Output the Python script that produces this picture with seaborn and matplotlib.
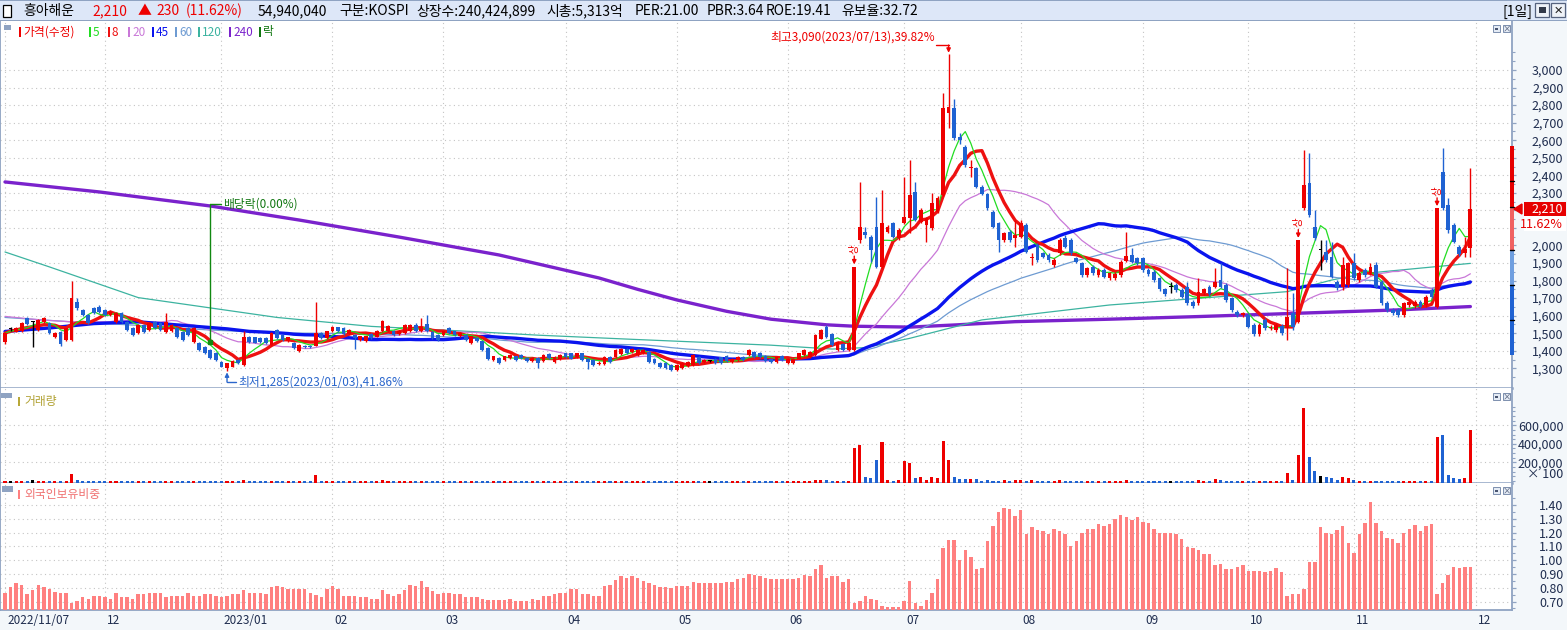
import numpy as np
import pandas as pd
import matplotlib
matplotlib.use("Agg")
import matplotlib.pyplot as plt
import matplotlib.transforms as mtrans
from matplotlib.patches import Rectangle, Polygon
import seaborn as sns

sns.set_style("white")
plt.rcParams['font.family'] = ['Noto Sans CJK KR', 'DejaVu Sans']
plt.rcParams['axes.unicode_minus'] = False

# ---------------- data (daily bars, 2022/11/07 .. 2023/11/30) ----------------
opens = [
    1452, 1524, 1509, 1510, 1585, 1566, 1519, 1566, 1557, 1480,
    1509, 1462, 1462, 1680, 1633, 1604, 1642, 1652, 1633, 1604,
    1566, 1614, 1566, 1528, 1500, 1547, 1519, 1566, 1557, 1509,
    1513, 1528, 1509, 1528, 1452, 1443, 1424, 1405, 1386, 1338,
    1300, 1310, 1348, 1319, 1480, 1476, 1471, 1471, 1433, 1519,
    1491, 1453, 1443, 1400, 1430, 1430, 1430, 1500, 1472, 1510,
    1533, 1529, 1495, 1491, 1463, 1457, 1495, 1481, 1510, 1510,
    1514, 1497, 1500, 1510, 1548, 1514, 1553, 1506, 1491, 1491,
    1529, 1510, 1482, 1491, 1444, 1472, 1453, 1415, 1349, 1358,
    1349, 1358, 1368, 1377, 1358, 1343, 1358, 1343, 1381, 1337,
    1351, 1385, 1385, 1366, 1385, 1356, 1347, 1324, 1324, 1366,
    1366, 1381, 1413, 1394, 1375, 1385, 1394, 1356, 1332, 1332,
    1318, 1290, 1300, 1313, 1318, 1366, 1337, 1343, 1356, 1362,
    1370, 1337, 1347, 1366, 1375, 1394, 1388, 1370, 1356, 1337,
    1370, 1328, 1328, 1356, 1375, 1366, 1375, 1470, 1536, 1498,
    1404, 1441, 1405, 1405, 2032, 2079, 2050, 2107, 1880, 2079,
    2126, 2041, 2126, 2155, 2307, 2136, 2117, 2098, 2193, 2288,
    2753, 2782, 2620, 2563, 2440, 2440, 2335, 2294, 2193, 2126,
    2031, 2079, 2041, 2050, 2117, 1927, 2003, 1956, 1946, 1889,
    1956, 2041, 2031, 1927, 1899, 1832, 1880, 1832, 1861, 1813,
    1813, 1832, 1914, 1946, 1927, 1927, 1860, 1851, 1813, 1750,
    1765, 1775, 1746, 1765, 1680, 1671, 1727, 1765, 1765, 1803,
    1775, 1699, 1623, 1604, 1604, 1547, 1496, 1576, 1528, 1519,
    1541, 1528, 1614, 1566, 2212, 2354, 2107, 1974, 1965, 1936,
    1794, 1765, 1775, 1898, 1803, 1860, 1842, 1889, 1794, 1675,
    1633, 1633, 1604, 1661, 1655, 1680, 1661, 1746, 1652, 2421,
    2231, 2117, 1994, 1955, 1984,
]
highs = [
    1505, 1535, 1535, 1565, 1590, 1570, 1582, 1595, 1562, 1505,
    1515, 1532, 1800, 1699, 1640, 1610, 1650, 1660, 1640, 1630,
    1620, 1620, 1572, 1534, 1552, 1552, 1562, 1571, 1562, 1614,
    1552, 1533, 1514, 1533, 1533, 1448, 1429, 1410, 1391, 1343,
    1333, 1347, 1353, 1515, 1485, 1481, 1476, 1476, 1505, 1524,
    1496, 1481, 1448, 1439, 1435, 1435, 1677, 1505, 1515, 1543,
    1538, 1534, 1525, 1496, 1487, 1487, 1500, 1519, 1577, 1549,
    1519, 1519, 1553, 1553, 1557, 1586, 1605, 1511, 1496, 1515,
    1534, 1515, 1505, 1496, 1487, 1477, 1458, 1420, 1373, 1363,
    1373, 1382, 1373, 1382, 1363, 1363, 1363, 1382, 1386, 1371,
    1380, 1390, 1390, 1390, 1390, 1361, 1352, 1340, 1371, 1371,
    1408, 1418, 1418, 1418, 1408, 1408, 1399, 1361, 1337, 1337,
    1323, 1323, 1337, 1342, 1380, 1371, 1352, 1350, 1361, 1367,
    1375, 1361, 1371, 1371, 1408, 1399, 1393, 1375, 1361, 1371,
    1375, 1361, 1361, 1390, 1408, 1399, 1494, 1522, 1545, 1503,
    1456, 1446, 1448, 1880, 2364, 2107, 2060, 2278, 2316, 2115,
    2135, 2098, 2392, 2487, 2364, 2212, 2165, 2297, 2280, 2867,
    3090, 2833, 2640, 2575, 2487, 2450, 2345, 2300, 2202, 2136,
    2079, 2088, 2145, 2145, 2126, 1956, 2012, 1965, 1956, 1927,
    2041, 2060, 2041, 1937, 1908, 1880, 1889, 1870, 1870, 1851,
    1848, 1918, 2079, 1984, 1937, 1936, 1870, 1860, 1822, 1760,
    1794, 1785, 1756, 1794, 1690, 1813, 1760, 1775, 1870, 1898,
    1785, 1708, 1633, 1623, 1614, 1557, 1557, 1586, 1547, 1557,
    1551, 1870, 1728, 2031, 2544, 2525, 2202, 2031, 2031, 2022,
    1804, 1936, 1908, 1955, 1852, 1870, 1898, 1908, 1804, 1685,
    1643, 1643, 1680, 1690, 1690, 1690, 1718, 1756, 2212, 2554,
    2269, 2127, 2004, 2050, 2440,
]
lows = [
    1440, 1510, 1505, 1505, 1545, 1420, 1515, 1560, 1495, 1475,
    1430, 1458, 1458, 1633, 1598, 1550, 1608, 1618, 1598, 1598,
    1560, 1560, 1512, 1484, 1495, 1504, 1514, 1523, 1514, 1504,
    1508, 1475, 1457, 1485, 1447, 1400, 1381, 1352, 1343, 1305,
    1285, 1305, 1323, 1314, 1447, 1442, 1443, 1438, 1428, 1466,
    1458, 1448, 1410, 1395, 1414, 1415, 1425, 1467, 1467, 1505,
    1505, 1490, 1490, 1411, 1458, 1452, 1467, 1476, 1505, 1505,
    1486, 1492, 1495, 1505, 1505, 1509, 1505, 1467, 1458, 1486,
    1495, 1486, 1477, 1458, 1439, 1448, 1400, 1349, 1344, 1325,
    1344, 1353, 1344, 1353, 1338, 1338, 1301, 1338, 1353, 1332,
    1346, 1361, 1351, 1361, 1342, 1294, 1313, 1320, 1319, 1332,
    1361, 1376, 1380, 1389, 1370, 1380, 1332, 1323, 1300, 1295,
    1287, 1286, 1295, 1308, 1313, 1323, 1332, 1336, 1323, 1323,
    1338, 1332, 1342, 1342, 1370, 1361, 1361, 1338, 1332, 1332,
    1342, 1323, 1323, 1351, 1370, 1361, 1370, 1465, 1474, 1427,
    1399, 1399, 1400, 1400, 2012, 2041, 1908, 1870, 1870, 2070,
    2040, 2031, 2120, 2069, 2140, 2126, 2022, 2090, 2185, 2280,
    2668, 2600, 2580, 2450, 2392, 2325, 2285, 2200, 2098, 1965,
    2022, 2022, 1994, 2041, 1955, 1889, 1908, 1927, 1908, 1880,
    1946, 1984, 1946, 1899, 1822, 1822, 1832, 1822, 1813, 1804,
    1803, 1822, 1904, 1898, 1889, 1850, 1828, 1794, 1740, 1714,
    1728, 1736, 1698, 1660, 1645, 1661, 1717, 1714, 1755, 1755,
    1680, 1623, 1595, 1595, 1528, 1486, 1486, 1518, 1519, 1509,
    1490, 1462, 1519, 1556, 2200, 2160, 2031, 1860, 1907, 1812,
    1746, 1746, 1765, 1803, 1793, 1822, 1832, 1755, 1661, 1623,
    1604, 1594, 1594, 1651, 1645, 1642, 1651, 1698, 1642, 2200,
    2070, 2012, 1940, 1936, 1935,
]
closes = [
    1500, 1524, 1528, 1557, 1551, 1566, 1576, 1585, 1500, 1500,
    1437, 1528, 1699, 1642, 1604, 1557, 1614, 1623, 1604, 1623,
    1614, 1566, 1519, 1490, 1547, 1509, 1557, 1528, 1519, 1566,
    1547, 1480, 1462, 1490, 1528, 1405, 1386, 1357, 1348, 1310,
    1328, 1342, 1328, 1480, 1452, 1447, 1448, 1443, 1500, 1471,
    1463, 1476, 1415, 1434, 1419, 1420, 1500, 1472, 1510, 1538,
    1510, 1495, 1520, 1472, 1482, 1482, 1472, 1514, 1567, 1544,
    1491, 1514, 1548, 1548, 1510, 1538, 1510, 1472, 1463, 1510,
    1500, 1491, 1500, 1463, 1482, 1453, 1405, 1354, 1368, 1330,
    1368, 1377, 1349, 1358, 1343, 1358, 1330, 1377, 1358, 1366,
    1375, 1366, 1356, 1385, 1347, 1337, 1318, 1332, 1366, 1337,
    1403, 1413, 1385, 1413, 1403, 1403, 1337, 1328, 1305, 1300,
    1290, 1318, 1332, 1337, 1375, 1328, 1347, 1343, 1328, 1328,
    1343, 1356, 1366, 1347, 1403, 1366, 1366, 1343, 1337, 1366,
    1347, 1356, 1356, 1385, 1403, 1394, 1489, 1517, 1479, 1432,
    1451, 1404, 1443, 1880, 2107, 2060, 1975, 1880, 2126, 2107,
    2050, 2088, 2164, 2288, 2145, 2202, 2155, 2240, 2269, 2782,
    2791, 2611, 2601, 2459, 2450, 2335, 2294, 2212, 2107, 2031,
    2069, 2031, 2060, 2126, 1965, 1937, 1918, 1937, 1918, 1918,
    2031, 1994, 1956, 1908, 1832, 1870, 1842, 1861, 1823, 1842,
    1838, 1908, 1940, 1908, 1898, 1860, 1838, 1803, 1750, 1724,
    1765, 1746, 1708, 1670, 1655, 1737, 1750, 1724, 1794, 1765,
    1690, 1633, 1604, 1613, 1538, 1496, 1547, 1528, 1538, 1547,
    1500, 1594, 1538, 2031, 2345, 2174, 2041, 1974, 1917, 1822,
    1756, 1889, 1898, 1813, 1842, 1832, 1879, 1765, 1671, 1633,
    1614, 1604, 1671, 1680, 1680, 1652, 1708, 1708, 2212, 2212,
    2088, 2022, 1952, 1980, 2210,
]
# volume, thousands of (x100 shares)
volume_k = [
    5, 4, 5, 5, 4, 6, 5, 5, 4, 5, 5, 5, 70, 6, 5,
    5, 4, 4, 5, 5, 5, 4, 5, 4, 5, 4, 5, 4, 4, 5,
    5, 4, 4, 4, 5, 4, 4, 5, 4, 4, 5, 5, 4, 8, 5,
    4, 4, 4, 5, 4, 4, 5, 4, 5, 4, 4, 65, 5, 5, 5,
    4, 4, 5, 4, 5, 5, 4, 5, 6, 5, 4, 5, 5, 5, 4,
    5, 5, 4, 4, 5, 4, 4, 5, 4, 5, 4, 5, 5, 4, 4,
    5, 5, 4, 4, 4, 5, 4, 5, 4, 5, 5, 4, 4, 5, 4,
    4, 4, 5, 5, 4, 5, 5, 4, 5, 5, 5, 4, 4, 4, 4,
    4, 5, 5, 5, 5, 4, 5, 4, 4, 4, 4, 5, 5, 4, 5,
    4, 4, 4, 4, 5, 4, 5, 5, 5, 5, 5, 8, 8, 6, 5,
    5, 4, 5, 351, 382, 46, 35, 225, 414, 14, 4, 14, 214, 193, 35,
    46, 14, 46, 35, 425, 225, 46, 25, 25, 25, 25, 4, 14, 4, 4,
    8, 4, 14, 14, 4, 8, 4, 4, 4, 5, 8, 4, 4, 4, 4,
    5, 4, 5, 4, 5, 5, 5, 14, 5, 4, 4, 4, 4, 4, 4,
    5, 4, 4, 4, 4, 14, 5, 4, 25, 14, 4, 4, 4, 5, 4,
    4, 5, 4, 5, 5, 4, 88, 14, 277, 782, 256, 109, 56, 46, 35,
    14, 46, 35, 14, 5, 4, 5, 4, 4, 4, 4, 4, 5, 5, 5,
    4, 5, 4, 477, 498, 67, 35, 25, 35, 551,
]
# foreign ownership ratio (%)
foreign = [
    .764, .807, .836, .821, .757, .786, .821, .807, .793, .771,
    .764, .764, .693, .707, .736, .721, .743, .743, .736, .721,
    .764, .736, .736, .721, .757, .757, .764, .764, .764, .736,
    .743, .743, .743, .764, .743, .743, .757, .757, .743, .736,
    .743, .757, .757, .786, .764, .764, .764, .757, .807, .814,
    .807, .793, .793, .793, .793, .764, .750, .736, .793, .814,
    .793, .743, .743, .743, .736, .736, .721, .721, .786, .757,
    .743, .757, .786, .821, .814, .850, .807, .779, .757, .764,
    .764, .757, .757, .736, .736, .736, .721, .714, .714, .714,
    .714, .721, .707, .707, .707, .721, .714, .743, .743, .757,
    .764, .764, .793, .793, .757, .757, .743, .743, .814, .821,
    .857, .886, .871, .886, .871, .850, .836, .821, .807, .807,
    .800, .814, .814, .814, .843, .836, .836, .836, .836, .836,
    .843, .843, .864,
    .871, .900, .893, .886, .871, .864, .864, .864, .864, .864,
    .871, .893, .886, .936, .964, .871, .886, .886, .843, .864,
    .693, .707, .743, .721, .714, .671, .664, .664, .664, .707,
    .850, .693, .671, .714, .764, .864, 1.086, 1.143, 1.143, 1.000,
    1.071, 1.021, .936, .943, 1.136, 1.250, 1.350, 1.379, 1.371, 1.321,
    1.364, 1.186, 1.243, 1.221, 1.214, 1.193, 1.229, 1.214, 1.186, 1.100,
    1.136, 1.200, 1.229, 1.229, 1.264, 1.250, 1.264, 1.300, 1.329, 1.314,
    1.293, 1.314, 1.279, 1.271, 1.229, 1.200, 1.200, 1.200, 1.193, 1.150,
    1.093, 1.086, 1.071, 1.043, 1.043, .964, .971, .936, .936, .950,
    .964, .921, .921, .921, .914, .921, .943, .914, .743, .757,
    .757, .793, .986, .986, 1.243, 1.200, 1.193, 1.221, 1.250, 1.121,
    1.050, 1.193, 1.271, 1.421, 1.271, 1.214, 1.164, 1.150, 1.121, 1.200,
    1.229, 1.257, 1.214, 1.250, 1.264, .757, .836, .893, .950, .943,
    .950, .950,
]

month_idx = [0, 18, 39, 59, 79, 101, 121, 141, 162, 183, 205, 224, 243, 265]
month_lbl = ["2022/11/07", "12", "2023/01", "02", "03", "04", "05", "06",
             "07", "08", "09", "10", "11", "12"]

# long averages need history before the window
ma20_head_idx = [0, 6, 12]
ma20_head_val = [1596, 1577, 1565]
ma45_head_idx = [0, 8, 16, 24, 32, 40]
ma45_head_val = [1510, 1530, 1555, 1565, 1545, 1525]
ma60_head_idx = [0, 12, 24, 36, 48]
ma60_head_val = [1590, 1565, 1545, 1520, 1502]
ma120_idx = [0, 8, 24, 49, 66, 84, 96, 114, 138, 149, 155, 163, 176, 199, 215, 231, 239, 245, 264]
ma120_val = [1963, 1878, 1703, 1590, 1539, 1510, 1489, 1464, 1432, 1410, 1418, 1471, 1576, 1661,
             1699, 1737, 1803, 1841, 1898]
ma240_idx = [0, 17, 37, 53, 71, 89, 107, 114, 121, 130, 138, 148, 153, 163, 171, 182, 199, 215,
             233, 251, 264]
ma240_val = [2362, 2305, 2225, 2145, 2048, 1946, 1815, 1750, 1690, 1625, 1580, 1548, 1540, 1535,
             1547, 1566, 1580, 1595, 1614, 1633, 1652]

limit_up_idx = [153, 233, 258]
hi_idx, lo_idx, div_idx = 170, 40, 37

# ---------------- helpers ----------------
W, H = 1567, 630
EDGE = '#8fa3c2'
NAVY = '#1f2d4f'
GRID = '#c4c4c4'
RED = '#ee0000'
BLUE = '#1f62d2'

fig = plt.figure(figsize=(W / 100, H / 100), dpi=100)
fig.patch.set_facecolor('#f3f7fa')


def rect(x0, y0, x1, y1):
    return [x0 / W, 1 - y1 / H, (x1 - x0) / W, (y1 - y0) / H]


def ftext(x, y, s, **kw):
    kw.setdefault('va', 'center')
    return fig.text(x / W, 1 - y / H, s, **kw)


def fbox(x0, y0, x1, y1, **kw):
    p = Rectangle((x0 / W, 1 - y1 / H), (x1 - x0) / W, (y1 - y0) / H,
                  transform=fig.transFigure, **kw)
    fig.patches.append(p)
    return p


o = np.array(opens, float)
h = np.array(highs, float)
l = np.array(lows, float)
c = np.array(closes, float)
n = len(c)
xs = np.arange(n)
colors = np.where(c > o, RED, np.where(c < o, BLUE, 'black'))
XL = (-0.9, 271.5)

close_s = pd.Series(c)


def ma_frame(win, head_idx=None, head_val=None):
    if head_idx is None:
        r = close_s.rolling(win, min_periods=1).mean()
        return pd.DataFrame({'x': xs, 'y': r.values})
    r = close_s.rolling(win).mean().dropna()
    return pd.DataFrame({'x': list(head_idx) + list(r.index),
                         'y': list(head_val) + list(r.values)})


# ---------------- axes ----------------
ax_p = fig.add_axes(rect(0, 21, 1512, 388))
ax_v = fig.add_axes(rect(0, 388, 1512, 483))
ax_f = fig.add_axes(rect(0, 483, 1512, 610))

for ax in (ax_p, ax_v, ax_f):
    ax.set_facecolor('white')
    ax.set_xlim(*XL)
    for s in ax.spines.values():
        s.set_color(EDGE)
        s.set_linewidth(1.3)
    ax.spines['top'].set_visible(False)

# ---- price panel ----
line_specs = [
    (pd.DataFrame({'x': ma240_idx, 'y': ma240_val}), '#7a22cc', 2.4),
    (pd.DataFrame({'x': ma120_idx, 'y': ma120_val}), '#3cb3a0', 0.9),
    (ma_frame(60, ma60_head_idx, ma60_head_val), '#6e9bd2', 0.9),
    (ma_frame(20, ma20_head_idx, ma20_head_val), '#c978d8', 0.9),
    (ma_frame(45, ma45_head_idx, ma45_head_val), '#0a14ee', 2.4),
    (ma_frame(8), '#ee1111', 2.4),
    (ma_frame(5), '#22dd22', 0.9),
]
for df, col, lw in line_specs:
    sns.lineplot(data=df, x='x', y='y', ax=ax_p, color=col, linewidth=lw,
                 estimator=None, sort=False, zorder=2)

min_body = 5.0
ax_p.vlines(xs, l, h, colors=colors, linewidth=1.0, zorder=3)
ax_p.bar(xs, np.maximum(np.abs(c - o), min_body), bottom=np.minimum(o, c),
         width=0.68, color=colors, linewidth=0, zorder=3)

ax_p.set_ylim(1188, 3279)
ax_p.yaxis.tick_right()
pticks = list(range(1300, 3001, 100))
ax_p.set_yticks(pticks)
# 2,200 / 2,100 sit under the current-price box
ax_p.set_yticklabels(["" if v in (2100, 2200) else f"{v:,}" for v in pticks])
ax_p.set_yticks(range(1250, 3101, 50), minor=True)

# limit-up markers
for i in limit_up_idx:
    ax_p.annotate("상", xy=(i, h[i]), xytext=(0, 12.5), textcoords='offset points',
                  ha='center', va='center', color=RED, fontsize=7.5, rotation=90, zorder=6)
    ax_p.annotate("", xy=(i, h[i]), xytext=(0, 7.5), textcoords='offset points',
                  arrowprops=dict(arrowstyle='-|>', color=RED, lw=1, mutation_scale=6,
                                  shrinkA=0, shrinkB=1.5), zorder=6)

# high / low annotation
ax_p.annotate("최고3,090(2023/07/13),39.82%", xy=(hi_idx, h[hi_idx]),
              xytext=(-10, 12), textcoords='offset points', ha='right', va='center',
              color=RED, fontsize=8.5, zorder=6)
ax_p.plot([hi_idx - 2.3, hi_idx], [3142, 3142], color=RED, lw=1, zorder=6)
ax_p.annotate("", xy=(hi_idx, h[hi_idx]), xytext=(hi_idx, 3142),
              arrowprops=dict(arrowstyle='-|>', color=RED, lw=1, mutation_scale=6,
                              shrinkA=0, shrinkB=1), zorder=6)

ax_p.annotate("최저1,285(2023/01/03),41.86%", xy=(lo_idx, l[lo_idx]),
              xytext=(8, -8.2), textcoords='offset points', ha='left', va='center',
              color='#2a66cc', fontsize=8.5, zorder=6)
ax_p.plot([lo_idx, lo_idx + 1.7], [1222, 1222], color='#2a66cc', lw=1, zorder=6)
ax_p.annotate("", xy=(lo_idx, l[lo_idx]), xytext=(lo_idx, 1222),
              arrowprops=dict(arrowstyle='-|>', color='#2a66cc', lw=1, mutation_scale=6,
                              shrinkA=0, shrinkB=1), zorder=6)

# ex-dividend marker
ax_p.plot([div_idx, div_idx], [1445, 2236], color='#118811', lw=1, zorder=6)
ax_p.plot([div_idx, div_idx + 2], [2236, 2236], color='#118811', lw=1, zorder=6)
ax_p.text(div_idx + 2.2, 2236, "배당락(0.00%)", color='#117711', fontsize=8.5,
          va='center', ha='left', zorder=6)
ax_p.plot([div_idx], [1450], marker='s', ms=3, color='#118811', zorder=6)

# price range band on the right axis line
band = mtrans.blended_transform_factory(ax_p.transAxes, ax_p.transData)
band_segments = [(2219, 2567, '#e60000'), (1974, 2219, '#f06262'),
                 (1775, 1974, '#6f9fe0'), (1376, 1775, '#1f62d2')]
for y0, y1, col in band_segments:
    ax_p.add_patch(Rectangle((1 - 1.6 / 1512, y0), 3.2 / 1512, y1 - y0, transform=band,
                             color=col, clip_on=False, zorder=7, linewidth=0))
for yv in [2370, 2219, 1974, 1775, 1575]:
    ax_p.plot([1 - 1.6 / 1512, 1 + 1.6 / 1512], [yv, yv], transform=band, color='black',
              lw=1, clip_on=False, zorder=8)

# ---- volume panel ----
vol = np.array(volume_k, float) * 1000
vb = -21500
ax_v.bar(xs, vol - vb, bottom=vb, width=0.55, color=colors, linewidth=0, zorder=3)
ax_v.set_ylim(vb, 1000000)
ax_v.yaxis.tick_right()
ax_v.set_yticks([200000, 400000, 600000])
ax_v.set_yticklabels(["200,000", "400,000", "600,000"])
ax_v.set_yticks(range(0, 800001, 50000), minor=True)

# ---- foreign ownership panel ----
sns.barplot(x=xs, y=foreign, native_scale=True, color='#ff8080', saturation=1,
            width=0.62, linewidth=0, ax=ax_f, zorder=3)
ax_f.set_xlim(*XL)
ax_f.set_ylim(0.639, 1.559)
ax_f.set_xlabel('')
ax_f.set_ylabel('')
ax_f.yaxis.tick_right()
fticks = [0.7, 0.8, 0.9, 1.0, 1.1, 1.2, 1.3, 1.4]
ax_f.set_yticks(fticks)
ax_f.set_yticklabels([f"{v:.2f}" for v in fticks])
ax_f.set_yticks(np.arange(0.65, 1.5, 0.05), minor=True)

# ---- shared styling ----
for ax in (ax_p, ax_v, ax_f):
    ax.set_xlim(*XL)
    ax.set_xticks(month_idx)
    ax.set_xticklabels([])
    ax.set_xlabel('')
    ax.set_ylabel('')
    ax.grid(True, which='major', linestyle=(0, (1, 3)), color=GRID, linewidth=0.8)
    ax.set_axisbelow(True)
    ax.tick_params(axis='y', which='major', direction='out', length=3, width=0.9,
                   color=EDGE, pad=34, labelsize=9, labelcolor=NAVY)
    ax.tick_params(axis='y', which='minor', direction='out', length=1.8, width=0.8, color=EDGE)
    for t in ax.get_yticklabels():
        t.set_horizontalalignment('right')
    ax.tick_params(axis='x', length=0)
ax_f.tick_params(axis='x', length=4, width=0.9, color=EDGE, direction='out')
ax_p.spines['bottom'].set_linewidth(1.8)
ax_v.spines['bottom'].set_linewidth(1.8)

# month labels under the bottom panel
lbl_tr = mtrans.offset_copy(mtrans.blended_transform_factory(ax_f.transData, fig.transFigure),
                            fig=fig, x=2, y=0, units='dots')
for i, s in zip(month_idx, month_lbl):
    ax_f.text(i, 1 - 621 / H, s, transform=lbl_tr, ha='left', va='center',
              fontsize=8.5, color=NAVY, clip_on=False)

ftext(1563, 474, "× 100", ha='right', fontsize=9, color=NAVY)

# ---- current price marker ----
fig.patches.append(Polygon([(1514 / W, 1 - 209 / H), (1522 / W, 1 - 204 / H), (1522 / W, 1 - 214 / H)],
                           closed=True, transform=fig.transFigure, color='#e60000'))
fbox(1524, 202, 1566, 216, color='#e60000', linewidth=0)
ftext(1563, 209, "2,210", ha='right', fontsize=9, color='white')
fbox(1524, 216, 1566, 231, color='white', linewidth=0)
ftext(1563, 224, "11.62%", ha='right', fontsize=9, color='#e60000')

# ---- header ----
fbox(0, 0, W, 21, facecolor='#dde7f8', edgecolor='none')
fbox(0, 0, W, 1.2, facecolor=EDGE, edgecolor='none')
fbox(0, 20, W, 21.3, facecolor=EDGE, edgecolor='none')
fbox(3, 5, 11, 17, facecolor='white', edgecolor='black', linewidth=0.9)
hdr = [(23, "흥아해운", 'black'), (92, "2,210", RED), (138, "▲", RED), (156, "230", RED),
       (186, "(11.62%)", RED), (258, "54,940,040", 'black'), (339, "구분:KOSPI", 'black'),
       (416, "상장수:240,424,899", 'black'), (546, "시총:5,313억", 'black'),
       (635, "PER:21.00", 'black'), (707, "PBR:3.64", 'black'), (766, "ROE:19.41", 'black'),
       (841, "유보율:32.72", 'black'), (1502, "[1일]", 'black')]
for x, s, col in hdr:
    ftext(x, 11, s, ha='left', fontsize=10, color=col)
for x0 in (1535, 1551):
    fbox(x0, 3, x0 + 14, 17, facecolor='#eef2f8', edgecolor='#55627e', linewidth=0.9)
fbox(1538.5, 7, 1545.5, 12.5, facecolor='#333a4a', edgecolor='none')
ftext(1558, 10, "✕", ha='center', fontsize=8, color='#222222', fontweight='bold')

# ---- legend row / panel titles ----
fbox(4, 25, 11, 30, facecolor=EDGE, edgecolor='none')
legend_items = [(19, "가격(수정)", '#ee0000'), (89, "5", '#22dd22'), (108, "8", '#ee1111'),
                (128, "20", '#c978d8'), (152, "45", '#0a14ee'), (175, "60", '#6e9bd2'),
                (198, "120", '#3cb3a0'), (229, "240", '#7a22cc'), (259, "락", '#117711')]
for x, s, col in legend_items:
    fbox(x, 27, x + 2.2, 37, facecolor=col, edgecolor='none')
    ftext(x + 4, 32, s, ha='left', fontsize=8.5, color=col)

fbox(1, 393, 12, 398, facecolor=EDGE, edgecolor='none')
fbox(18, 397, 20.2, 406, facecolor='#b8a838', edgecolor='none')
ftext(24, 402, "거래량", ha='left', fontsize=8.5, color='#b0a030')

fbox(2, 486, 13, 492, facecolor=EDGE, edgecolor='none')
fbox(18, 490, 20.2, 499, facecolor='#ff8080', edgecolor='none')
ftext(24, 494.5, "외국인보유비중", ha='left', fontsize=8.5, color='#f07070')

# small panel buttons
for y0 in (25, 393, 487):
    for x0 in (1493, 1503):
        fbox(x0, y0, x0 + 7, y0 + 7, facecolor='#e4ebf5', edgecolor='#7d8fae', linewidth=0.7)
    fbox(1495, y0 + 2.5, 1498, y0 + 4.5, facecolor='#4a5570', edgecolor='none')
    ftext(1506.5, y0 + 3.5, "×", ha='center', fontsize=6, color='#4a5570')

fig.savefig("out.png", dpi=100, facecolor=fig.get_facecolor())
